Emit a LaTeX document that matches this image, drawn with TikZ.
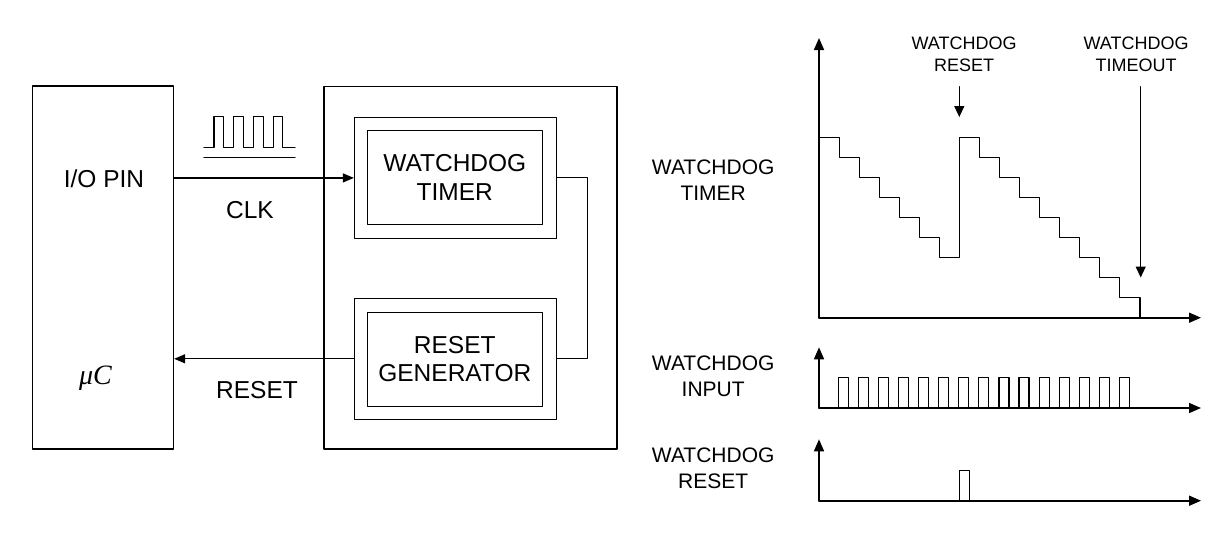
\documentclass[tikz,border=0pt]{standalone}
\usepackage{fontspec}
\setmainfont{Liberation Sans}
\newfontfamily\mufont{Liberation Serif}
\usetikzlibrary{arrows.meta}

\tikzset{
  blk/.style={draw,line width=1.3pt,inner sep=0pt},
  lbl/.style={align=center,font=\fontsize{24.5}{28.5}\selectfont},
  sidelbl/.style={align=center,font=\fontsize{21}{25.7}\selectfont},
  toplbl/.style={align=center,font=\fontsize{18}{21.7}\selectfont},
  sig/.style={line width=1.1pt},
  axis/.style={line width=1.6pt,-{Triangle[length=12pt,width=10pt]}},
  arr/.style={line width=1.2pt,-{Triangle[length=11pt,width=9pt]}},
  tip/.style={line width=1.3pt,-{Triangle[length=11pt,width=10pt]}},
}

\begin{document}
\begin{tikzpicture}[line cap=round,line join=round,x=1pt,y=-1pt]
\useasboundingbox (0,0) rectangle (1231,550);
% block diagram
\node[blk,minimum width=141pt,minimum height=363pt] (uc) at (103,267.5) {};
\node[lbl] (io) at (104,179) {I/O PIN};
\node[lbl] (mu) at (95.5,378.5) {\mufont\itshape\fontsize{28}{30}\selectfont μC};
\node[blk,minimum width=293pt,minimum height=362.5pt] (wdg) at (470.5,267.8) {};
\node[blk,minimum width=202pt,minimum height=120.5pt] (wtout) at (455.5,177.9) {};
\node[blk,lbl,minimum width=175pt,minimum height=93.5pt] (wt) at (454.8,177.5) {WATCHDOG\\TIMER};
\node[blk,minimum width=202pt,minimum height=121pt] (rgout) at (455.5,358.8) {};
\node[blk,lbl,minimum width=175pt,minimum height=94pt] (rg) at (454.8,359.3) {RESET\\GENERATOR};
\draw[arr] (uc.east |- wtout.west) -- (wtout.west);
\draw[arr] (rgout.west) -- (uc.east |- rgout.west);
\draw[sig] (wtout.east) -- ++(30.6,0) |- (rgout.east);
\node[lbl] (clk) at (250,210) {CLK};
\node[lbl] (rst) at (257,390) {RESET};
% clock symbol
\draw[sig] (204,147.7) \foreach \i in {0,...,3} {-- (214+19.8*\i,147.7) -- (214+19.8*\i,116.7) -- (223.5+19.8*\i,116.7) -- (223.5+19.8*\i,147.7)} -- (295,147.7);
\draw[sig] (204,157.3) -- (295,157.3);
% timing: watchdog timer
\coordinate (o1) at (819,317.7);
\draw[axis] (o1) -- (819,38);
\draw[axis] (o1) -- (1201,317.7);
\draw[sig] (819,137.3) \foreach \k in {1,...,6} {-| (819+20.05*\k,137.3+20.05*\k)} -| (959.3,137.3)
  \foreach \k in {1,...,8} {-| (959.3+20.05*\k,137.3+20.05*\k)} -| (o1 -| 1140,0);
\node[toplbl] (lblrst) at (964,54.5) {WATCHDOG\\RESET};
\node[toplbl] (lblto) at (1136,54.5) {WATCHDOG\\TIMEOUT};
\coordinate (rstpt) at (959.3,117);
\coordinate (topt) at (1140.7,277.5);
\draw[tip] ([yshift=30.3pt]rstpt) -- (rstpt);
\draw[tip] ([yshift=190.8pt]topt) -- (topt);
\node[sidelbl] (lbltmr) at (713.2,180) {WATCHDOG\\TIMER};
% timing: watchdog input
\coordinate (o2) at (819,408);
\draw[axis] (o2) -- (819,347.3);
\draw[axis] (o2) -- (1201,408);
\foreach \k in {0,...,14}
  \draw[sig] (838.4+20.07*\k,408) -- ++(0,-30.7) -- ++(10,0) -- ++(0,30.7);
\node[sidelbl] (lblin) at (713.2,376) {WATCHDOG\\INPUT};
% timing: watchdog reset
\coordinate (o3) at (819,500.7);
\draw[axis] (o3) -- (819,439.3);
\draw[axis] (o3) -- (1201,500.7);
\draw[sig] (959.3,500.7) -- ++(0,-30.4) -- ++(10,0) -- ++(0,30.4);
\node[sidelbl] (lblres) at (713.2,468) {WATCHDOG\\RESET};
\end{tikzpicture}
\end{document}
